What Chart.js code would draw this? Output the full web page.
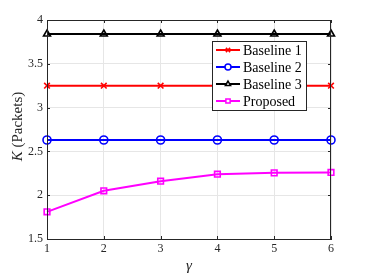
<!DOCTYPE html>
<html>
<head>
<meta charset="utf-8">
<script src="https://cdn.jsdelivr.net/npm/chart.js@4"></script>
<style>
  html, body { margin: 0; padding: 0; background: #fff; }
  #wrap { width: 366px; height: 274px; }
</style>
</head>
<body>
<div id="wrap"><canvas id="chart-k-packets"></canvas></div>
<script>
const gammaValues = [1, 2, 3, 4, 5, 6];
const baseline1 = [3.25, 3.25, 3.25, 3.25, 3.25, 3.25];
const baseline2 = [2.63, 2.63, 2.63, 2.63, 2.63, 2.63];
const baseline3 = [3.84, 3.84, 3.84, 3.84, 3.84, 3.84];
const proposed = [1.81, 2.05, 2.16, 2.24, 2.255, 2.26];
const seriesLabels = ['Baseline 1', 'Baseline 2', 'Baseline 3', 'Proposed'];
const yTicks = [1.5, 2, 2.5, 3, 3.5, 4];

const serif = '"Liberation Serif", "DejaVu Serif", serif';

function toPoints(values) {
    return gammaValues.map((g, i) => ({ x: g, y: values[i] }));
}

// box round the plot, inward ticks, the matlab style legend + axis titles
const matlabDecor = {
    id: 'matlabDecor',
    afterDraw(chart) {
        const ctx = chart.ctx;
        const a = chart.chartArea;
        const xs = chart.scales.x, ys = chart.scales.y;
        ctx.save();
        ctx.strokeStyle = '#262626';
        ctx.lineWidth = 1;
        ctx.strokeRect(a.left + 0.5, a.top + 0.5, a.right - a.left - 1, a.bottom - a.top);

        ctx.beginPath();
        gammaValues.forEach(g => {
            const px = Math.round(xs.getPixelForValue(g)) + 0.5;
            ctx.moveTo(px, a.bottom); ctx.lineTo(px, a.bottom - 3);
            ctx.moveTo(px, a.top); ctx.lineTo(px, a.top + 3);
        });
        yTicks.forEach(v => {
            const py = Math.round(ys.getPixelForValue(v)) + 0.5;
            ctx.moveTo(a.left, py); ctx.lineTo(a.left + 3, py);
            ctx.moveTo(a.right, py); ctx.lineTo(a.right - 3, py);
        });
        ctx.stroke();

        // legend
        const lx = 212, ly = 41, lw = 94, lh = 69;
        ctx.fillStyle = '#fff';
        ctx.fillRect(lx, ly, lw, lh);
        ctx.strokeStyle = '#262626';
        ctx.strokeRect(lx + 0.5, ly + 0.5, lw, lh);
        ctx.textBaseline = 'middle';
        chart.data.datasets.forEach((ds, i) => {
            const y = ly + 9 + i * 17;
            ctx.strokeStyle = ds.borderColor;
            ctx.lineWidth = 2;
            ctx.beginPath();
            ctx.moveTo(lx + 4, y);
            ctx.lineTo(lx + 28, y);
            ctx.stroke();
            ctx.fillStyle = '#fff';
            ctx.lineWidth = 1.5;
            Chart.helpers.drawPoint(ctx, {
                pointStyle: ds.pointStyle,
                radius: 3,
                borderWidth: 1.5
            }, lx + 16, y);
            ctx.fillStyle = '#000';
            ctx.font = '14px ' + serif;
            ctx.fillText(ds.label, lx + 31, y + 1);
        });

        // axis titles
        ctx.fillStyle = '#262626';
        ctx.font = 'italic 15px ' + serif;
        ctx.textAlign = 'center';
        ctx.textBaseline = 'middle';
        ctx.fillText('\u03b3', (a.left + a.right) / 2, 266);

        ctx.translate(18, (a.top + a.bottom) / 2 - 3);
        ctx.rotate(-Math.PI / 2);
        ctx.font = 'italic 15px ' + serif;
        const kW = ctx.measureText('K').width;
        ctx.font = '15px ' + serif;
        const restW = ctx.measureText(' (Packets)').width;
        const start = -(kW + restW) / 2;
        ctx.textAlign = 'left';
        ctx.font = 'italic 15px ' + serif;
        ctx.fillText('K', start, 0);
        ctx.font = '15px ' + serif;
        ctx.fillText(' (Packets)', start + kW, 0);
        ctx.restore();
    }
};

function makeDataset(label, values, color, style) {
    return {
        label: label,
        data: toPoints(values),
        borderColor: color,
        backgroundColor: 'rgba(0,0,0,0)',
        pointStyle: style,
        pointRadius: 4,
        pointBorderWidth: 1.6,
        pointBackgroundColor: 'rgba(0,0,0,0)',
        pointBorderColor: color,
        borderWidth: 2,
        tension: 0,
        clip: false
    };
}

const ctx = document.getElementById('chart-k-packets').getContext('2d');
const myChart = new Chart(ctx, {
    type: 'line',
    data: {
        datasets: [
            makeDataset(seriesLabels[0], baseline1, '#ff0000', 'crossRot'),
            makeDataset(seriesLabels[1], baseline2, '#0000ff', 'circle'),
            makeDataset(seriesLabels[2], baseline3, '#000000', 'triangle'),
            makeDataset(seriesLabels[3], proposed, '#ff00ff', 'rect')
        ]
    },
    options: {
        responsive: true,
        maintainAspectRatio: false,
        animation: false,
        layout: { padding: { top: 20, right: 35, left: 0, bottom: 0 } },
        plugins: {
            legend: { display: false },
            tooltip: { enabled: false }
        },
        scales: {
            x: {
                type: 'linear',
                min: 1,
                max: 6,
                ticks: {
                    stepSize: 1,
                    color: '#262626',
                    font: { family: serif, size: 12 },
                    padding: 3
                },
                grid: { color: '#e6e6e6', drawTicks: false },
                border: { color: '#262626' },
                afterFit(scale) { scale.height = 35; }
            },
            y: {
                min: 1.5,
                max: 4,
                afterBuildTicks(scale) {
                    scale.ticks = yTicks.map(v => ({ value: v }));
                },
                ticks: {
                    color: '#262626',
                    font: { family: serif, size: 12 },
                    padding: 4,
                    callback: v => String(v)
                },
                grid: { color: '#e6e6e6', drawTicks: false },
                border: { color: '#262626' },
                afterFit(scale) { scale.width = 47; }
            }
        }
    },
    plugins: [matlabDecor]
});
</script>
</body>
</html>
